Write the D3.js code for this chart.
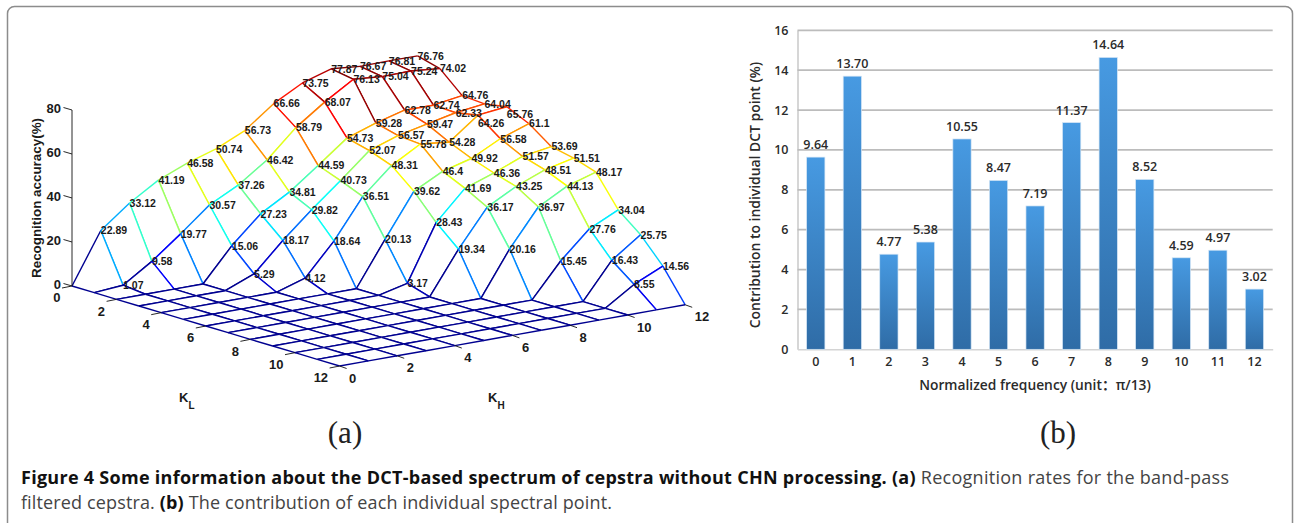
<!DOCTYPE html>
<html>
<head>
<meta charset="utf-8">
<script src="https://cdn.jsdelivr.net/npm/d3@7"></script>
<style>
  html, body { margin: 0; padding: 0; background: #fff; }
  svg { display: block; }
  .num { font-family: "Liberation Sans", sans-serif; font-weight: bold; fill: #1a1a1a; }
  .office { font-family: "Open Sans", "Noto Sans CJK SC", sans-serif; font-weight: 600; fill: #2b2b2b; }
  .cap { font-family: "Open Sans", sans-serif; font-size: 18px; }
</style>
</head>
<body>
<svg id="chart" width="1294" height="523"></svg>
<script>
// recognition accuracy, one array per KL, index is KH
const kl0 = [0, 22.89, 33.12, 41.19, 46.58, 50.74, 56.73, 66.66, 73.75, 77.87, 76.67, 76.81, 76.76];
const kl1 = [0, 1.07, 9.58, 19.77, 30.57, 37.26, 46.42, 58.79, 68.07, 76.13, 75.04, 75.24, 74.02];
const kl2 = [0, 0, 0, 0, 15.06, 27.23, 34.81, 44.59, 54.73, 59.28, 62.78, 62.74, 64.76];
const kl3 = [0, 0, 0, 0, 5.29, 18.17, 29.82, 40.73, 52.07, 56.57, 59.47, 62.33, 64.04];
const kl4 = [0, 0, 0, 0, 0, 4.12, 18.64, 36.51, 48.31, 55.78, 54.28, 64.26, 65.76];
const kl5 = [0, 0, 0, 0, 0, 0, 0, 20.13, 39.62, 46.4, 49.92, 56.58, 61.1];
const kl6 = [0, 0, 0, 0, 0, 0, 0, 3.17, 28.43, 41.69, 46.36, 51.57, 53.69];
const kl7 = [0, 0, 0, 0, 0, 0, 0, 0, 19.34, 36.17, 43.25, 48.51, 51.51];
const kl8 = [0, 0, 0, 0, 0, 0, 0, 0, 0, 20.16, 36.97, 44.13, 48.17];
const kl9 = [0, 0, 0, 0, 0, 0, 0, 0, 0, 0, 15.45, 27.76, 34.04];
const kl10 = [0, 0, 0, 0, 0, 0, 0, 0, 0, 0, 0, 16.43, 25.75];
const kl11 = [0, 0, 0, 0, 0, 0, 0, 0, 0, 0, 0, 8.55, 14.56];
const kl12 = [0, 0, 0, 0, 0, 0, 0, 0, 0, 0, 0, 0, 0];
const surface = [kl0, kl1, kl2, kl3, kl4, kl5, kl6, kl7, kl8, kl9, kl10, kl11, kl12];

const gridTicks = [0, 2, 4, 6, 8, 10, 12];
const zTicks = [0, 20, 40, 60, 80];

// contribution of each DCT point
const dctPoints = ["0", "1", "2", "3", "4", "5", "6", "7", "8", "9", "10", "11", "12"];
const dctValues = [9.64, 13.70, 4.77, 5.38, 10.55, 8.47, 7.19, 11.37, 14.64, 8.52, 4.59, 4.97, 3.02];
const dctTicks = [0, 2, 4, 6, 8, 10, 12, 14, 16];

const svg = d3.select("#chart");

// frame, bottom edge runs off the page
svg.append("rect")
  .attr("x", 7.5).attr("y", 6.5)
  .attr("width", 1285).attr("height", 600)
  .attr("rx", 7)
  .attr("fill", "none")
  .attr("stroke", "#8c8c8c")
  .attr("stroke-width", 1.5);

// ---------- (a) mesh ----------
// oblique projection, each scale gives the screen shift of one axis
const khX = d3.scaleLinear().domain([0, 12]).range([72, 417.6]);
const khY = d3.scaleLinear().domain([0, 12]).range([286, 224.8]);
const klX = d3.scaleLinear().domain([0, 12]).range([0, 267.6]);
const klY = d3.scaleLinear().domain([0, 12]).range([0, 80]);
const zY = d3.scaleLinear().domain([0, 80]).range([0, -176]);

const px = (kl, kh) => khX(kh) + klX(kl);
const py = (kl, kh, z) => khY(kh) + klY(kl) + zY(z);

// matlab jet
const jet = d3.scaleLinear()
  .domain([0, 1 / 8, 3 / 8, 5 / 8, 7 / 8, 1].map(t => t * d3.max(surface.flat())))
  .range(["#000090", "#0000ff", "#00ffff", "#ffff00", "#ff0000", "#800000"]);

const mesh = svg.append("g").attr("fill", "none").attr("stroke-width", 1.4);
const segment = d3.line();

function node(kl, kh) {
  return [px(kl, kh), py(kl, kh, surface[kl][kh])];
}

// back to front so the white cells hide what is behind them
for (let kl = 0; kl < 12; kl++) {
  for (let kh = 11; kh >= 0; kh--) {
    const a = node(kl, kh), b = node(kl, kh + 1), c = node(kl + 1, kh + 1), d = node(kl + 1, kh);
    mesh.append("path").attr("d", segment([a, b, c, d]) + "Z").attr("fill", "#fff").attr("stroke", "none");
    mesh.append("path").attr("d", segment([a, b])).attr("stroke", jet(surface[kl][kh]));
    mesh.append("path").attr("d", segment([a, d])).attr("stroke", jet(surface[kl][kh]));
    mesh.append("path").attr("d", segment([b, c])).attr("stroke", jet(surface[kl][kh + 1]));
    mesh.append("path").attr("d", segment([d, c])).attr("stroke", jet(surface[kl + 1][kh]));
  }
}

// value labels
const labels = svg.append("g").attr("class", "num").attr("font-size", 10.5);
surface.forEach((row, kl) => row.forEach((z, kh) => {
  if (z <= 0) return;
  // these two sit lower than their nodes in the figure
  const nudge = (kl === 4 && kh === 11) ? 8 : (kl === 4 && kh === 12) ? 7 : 0;
  labels.append("text")
    .attr("x", px(kl, kh))
    .attr("y", py(kl, kh, z) + nudge)
    .attr("dy", "0.36em")
    .text(z);
}));

// z axis
const axisA = svg.append("g").attr("stroke", "#111").attr("stroke-width", 0.9);
axisA.append("line")
  .attr("x1", px(0, 0)).attr("x2", px(0, 0))
  .attr("y1", py(0, 0, 0)).attr("y2", py(0, 0, 80));

const tickLabels = svg.append("g").attr("class", "num").attr("font-size", 13);
zTicks.forEach(t => {
  axisA.append("line")
    .attr("x1", px(0, 0)).attr("x2", px(0, 0) - 8.5)
    .attr("y1", py(0, 0, t)).attr("y2", py(0, 0, t) - 2.5);
  tickLabels.append("text")
    .attr("x", px(0, 0) - 11).attr("y", py(0, 0, t) - 1.5)
    .attr("dy", "0.36em").attr("text-anchor", "end").text(t);
});

gridTicks.forEach(t => {
  // KL ticks
  axisA.append("line")
    .attr("x1", px(t, 0)).attr("x2", px(t, 0) - 10)
    .attr("y1", py(t, 0, 0)).attr("y2", py(t, 0, 0) + 2);
  tickLabels.append("text")
    .attr("x", px(t, 0) - 11.5).attr("y", py(t, 0, 0) + 11.5)
    .attr("dy", "0.36em").attr("text-anchor", "end").text(t);
  // KH ticks
  axisA.append("line")
    .attr("x1", px(12, t)).attr("x2", px(12, t) + 7)
    .attr("y1", py(12, t, 0)).attr("y2", py(12, t, 0) + 2.5);
  tickLabels.append("text")
    .attr("x", px(12, t) + 9.5).attr("y", py(12, t, 0) + 12)
    .attr("dy", "0.36em").text(t);
});

svg.append("text").attr("class", "num")
  .attr("font-size", 13.4)
  .attr("text-anchor", "middle")
  .attr("transform", "translate(41,198) rotate(-90)")
  .text("Recognition accuracy(%)");

const klTitle = svg.append("text").attr("class", "num").attr("x", 179).attr("y", 402).attr("font-size", 13);
klTitle.append("tspan").text("K");
klTitle.append("tspan").attr("dy", 7).attr("font-size", 10).text("L");
const khTitle = svg.append("text").attr("class", "num").attr("x", 488).attr("y", 402).attr("font-size", 13);
khTitle.append("tspan").text("K");
khTitle.append("tspan").attr("dy", 7).attr("font-size", 10).text("H");

// ---------- (b) bars ----------
const x = d3.scaleBand().domain(dctPoints).range([797.5, 1272.7]).paddingInner(0.5).paddingOuter(0.25);
const y = d3.scaleLinear().domain([0, 16]).range([349.3, 30.3]);

const defs = svg.append("defs");
const grad = defs.append("linearGradient").attr("id", "barFill")
  .attr("x1", 0).attr("y1", 0).attr("x2", 0).attr("y2", 1);
grad.append("stop").attr("offset", "0%").attr("stop-color", "#479ae2");
grad.append("stop").attr("offset", "100%").attr("stop-color", "#2f6ca6");

const yAxis = svg.append("g")
  .attr("transform", "translate(797.5,0)")
  .call(d3.axisLeft(y).tickValues(dctTicks).tickSize(0).tickPadding(9));
yAxis.select(".domain").attr("stroke", "#c9c9c9").attr("stroke-width", 1.5);

const xAxis = svg.append("g")
  .attr("transform", "translate(0,349.3)")
  .call(d3.axisBottom(x).tickSize(0).tickPadding(8));
xAxis.select(".domain").attr("stroke", "#d4d4d4").attr("stroke-width", 1.5);

[yAxis, xAxis].forEach(a => {
  a.attr("font-family", null).attr("font-size", null);
  a.selectAll("text").attr("class", "office").attr("font-size", 12.5).attr("fill", null);
});

svg.append("g").selectAll("line")
  .data(dctTicks.filter(t => t > 0))
  .join("line")
  .attr("x1", 797.5).attr("x2", 1272.7)
  .attr("y1", d => y(d)).attr("y2", d => y(d))
  .attr("stroke", "#bcbcbc")
  .attr("stroke-width", 1.8);

svg.append("g").selectAll("rect")
  .data(dctValues)
  .join("rect")
  .attr("x", (d, i) => x(dctPoints[i]))
  .attr("y", d => y(d))
  .attr("width", x.bandwidth())
  .attr("height", d => y(0) - y(d))
  .attr("fill", "url(#barFill)")
  .attr("stroke", "#d5e6f5")
  .attr("stroke-width", 0.7);

svg.append("g").selectAll("text")
  .data(dctValues)
  .join("text")
  .attr("class", "office")
  .attr("font-size", 12.5)
  .attr("text-anchor", "middle")
  .attr("x", (d, i) => x(dctPoints[i]) + x.bandwidth() / 2)
  .attr("y", d => y(d) - 8)
  .text(d => d.toFixed(2));

svg.append("text").attr("class", "office")
  .attr("font-size", 13.8)
  .attr("text-anchor", "middle")
  .attr("x", 1035).attr("y", 390)
  .text("Normalized frequency (unit：π/13)");

svg.append("text").attr("class", "office")
  .attr("font-size", 13.9)
  .attr("text-anchor", "middle")
  .attr("transform", "translate(760,195) rotate(-90)")
  .text("Contribution to individual DCT point (%)");

// panel letters
[["(a)", 345], ["(b)", 1058]].forEach(([t, cx]) => {
  svg.append("text")
    .attr("x", cx).attr("y", 443)
    .attr("text-anchor", "middle")
    .attr("font-family", "'Liberation Serif', serif")
    .attr("font-size", 31)
    .attr("fill", "#222")
    .text(t);
});

// caption, stretched to the line ends of the figure
const line1 = svg.append("text").attr("class", "cap").attr("x", 21).attr("y", 484).attr("fill", "#444")
  .attr("textLength", 1208);
line1.append("tspan").attr("font-weight", "bold").attr("fill", "#111")
  .text("Figure 4 Some information about the DCT-based spectrum of cepstra without CHN processing. (a)");
line1.append("tspan").text(" Recognition rates for the band-pass");

const line2 = svg.append("text").attr("class", "cap").attr("x", 21).attr("y", 509).attr("fill", "#444")
  .attr("textLength", 591);
line2.append("tspan").text("filtered cepstra. ");
line2.append("tspan").attr("font-weight", "bold").attr("fill", "#111").text("(b)");
line2.append("tspan").text(" The contribution of each individual spectral point.");
</script>
</body>
</html>
